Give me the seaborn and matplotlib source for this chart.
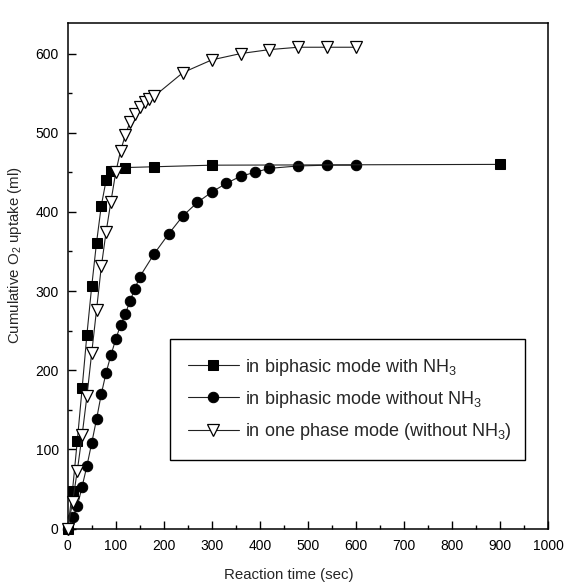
import numpy as np
import pandas as pd
import matplotlib
matplotlib.use("Agg")
import matplotlib.pyplot as plt
import seaborn as sns
from matplotlib.ticker import MultipleLocator

# ---- data ----
t_nh3 = [0, 10, 20, 30, 40, 50, 60, 70, 80, 90, 120, 180, 300, 900]
o2_nh3 = [0, 48, 111, 177, 245, 306, 361, 408, 440, 452, 456, 457, 459, 460]

t_no_nh3 = [0, 10, 20, 30, 40, 50, 60, 70, 80, 90, 100, 110, 120, 130, 140, 150,
            180, 210, 240, 270, 300, 330, 360, 390, 420, 480, 540, 600]
o2_no_nh3 = [0, 14, 28, 53, 79, 108, 138, 170, 197, 219, 239, 257, 271, 288, 303, 318,
             347, 372, 395, 412, 425, 436, 445, 450, 455, 458, 459, 459]

t_one = [0, 10, 20, 30, 40, 50, 60, 70, 80, 90, 100, 110, 120, 130, 140, 150, 160, 170,
         180, 240, 300, 360, 420, 480, 540, 600]
o2_one = [0, 33, 73, 118, 167, 222, 276, 331, 375, 413, 450, 477, 497, 514, 524, 533, 539, 543,
          546, 576, 592, 600, 605, 608, 608, 608]

labels = ["in biphasic mode with NH$_3$",
          "in biphasic mode without NH$_3$",
          "in one phase mode (without NH$_3$)"]
x_label = "Reaction time (sec)"
y_label = "Cumulative O$_2$ uptake (ml)"

sns.set_style("ticks")
plt.rcParams["font.family"] = ["Liberation Sans", "DejaVu Sans"]
plt.rcParams["mathtext.fontset"] = "custom"
plt.rcParams["mathtext.rm"] = "Liberation Sans"
plt.rcParams["mathtext.it"] = "Liberation Sans"

fig = plt.figure(figsize=(5.67, 5.83), dpi=100)
ax = fig.add_axes([67.7 / 567, 1 - 528.5 / 583, (548 - 67.7) / 567, (528.5 - 22.7) / 583])

df1 = pd.DataFrame({"t": t_nh3, "o2": o2_nh3})
df2 = pd.DataFrame({"t": t_no_nh3, "o2": o2_no_nh3})
df3 = pd.DataFrame({"t": t_one, "o2": o2_one})

common = dict(ax=ax, color="#222222", linewidth=0.8, clip_on=False, markeredgecolor="black")
sns.lineplot(data=df1, x="t", y="o2", marker="s", markersize=7, markerfacecolor="black",
             label=labels[0], zorder=4, **common)
sns.lineplot(data=df2, x="t", y="o2", marker="o", markersize=7.5, markerfacecolor="black",
             label=labels[1], zorder=3, **common)
sns.lineplot(data=df3, x="t", y="o2", marker="v", markersize=8.3, markerfacecolor="white",
             markeredgewidth=0.9, label=labels[2], zorder=5, **common)

ax.set_xlim(0, 1000)
ax.set_ylim(0, 639)
ax.xaxis.set_major_locator(MultipleLocator(100))
ax.xaxis.set_minor_locator(MultipleLocator(50))
ax.yaxis.set_major_locator(MultipleLocator(100))
ax.yaxis.set_minor_locator(MultipleLocator(50))
ax.tick_params(axis="both", which="major", direction="in", length=6, width=1,
               labelsize=10, color="black", labelcolor="black")
ax.tick_params(axis="both", which="minor", direction="in", length=3, width=1, color="black")
ax.tick_params(axis="x", which="major", pad=7.5)
ax.tick_params(axis="y", which="major", pad=6.5)
for s in ax.spines.values():
    s.set_visible(True)
    s.set_linewidth(1.1)
    s.set_color("black")

ax.set_xlabel(x_label, fontsize=10.8)
ax.set_ylabel(y_label, fontsize=10.8)
ax.xaxis.label.set_va("center")
ax.yaxis.label.set_va("center")
ax.xaxis.set_label_coords((288.5 - 67.7) / 480.3, (528.5 - 575) / 505.8)
ax.yaxis.set_label_coords((15 - 67.7) / 480.3, (528.5 - 255) / 505.8)

leg = ax.legend(loc="lower left",
                bbox_to_anchor=((170 - 67.7) / 480.3, (528.5 - 460) / 505.8,
                                (525 - 170) / 480.3, 0.2),
                mode="expand", borderaxespad=0, fontsize=13, frameon=True,
                fancybox=False, edgecolor="black", framealpha=1,
                handlelength=2.8, handletextpad=0.33, borderpad=1.0,
                labelspacing=0.62)
leg.get_frame().set_linewidth(1.0)

fig.savefig("out.png", dpi=100)
